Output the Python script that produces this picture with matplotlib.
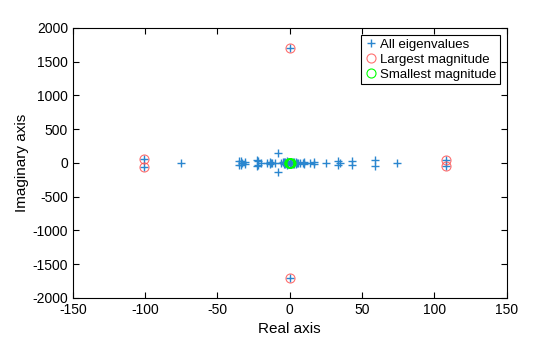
import matplotlib.pyplot as plt

plt.rcParams['font.family'] = ['Liberation Sans', 'DejaVu Sans']
plt.rcParams['axes.unicode_minus'] = False

# eigenvalues (real, imag)
eig_re = [-75, -35, -35, -34, -34, -33, -31, -31, -23, -23, -22, -22, -20,
          -16, -14, -14, -13, -12, -10, -8, -8, -6, -5, -4, -4, -3, -3, -2,
          -2, -1, -1, 0, 0, 1, 1, 2, 2, 3, 3, 4, 4, 5, 6, 7, 9, 10, 10, 14, 17,
          17, 25, 33, 33, 35, 43, 43, 59, 59, 74,
          -101, -101, 108, 108, 0, 0]
eig_im = [0, 35, -35, 25, -25, 0, 10, -10, 40, -40, 30, -30, 0,
          0, 20, -20, 0, 0, 0, 140, -140, 0, 15, 20, -20, 10, -10, 25,
          -25, 5, -5, 12, -12, 8, -8, 20, -20, 10, -10, 15, -15, 0, 0, 0, 0,
          20, -20, 0, 20, -20, 0, 30, -30, 0, 35, -35, 50, -50, 0,
          65, -65, 50, -50, 1700, -1700]

large_re = [-101, -101, 108, 108, 0, 0]
large_im = [65, -65, 50, -50, 1700, -1700]

small_re = [0.3, -0.3, 0.5, -0.5, 0.2, -0.2]
small_im = [2, -2, 4, -4, 0, 0]

fig = plt.figure(figsize=(5.6, 3.37), dpi=100)
ax = fig.add_axes([0.13, 0.116, 0.775, 0.801])

ax.plot(eig_re, eig_im, '+', color='#2A86CF', markersize=6,
        markeredgewidth=1.0, label='All eigenvalues')
ax.plot(large_re, large_im, 'o', color='#FF4D4D', markerfacecolor='none',
        markersize=6.5, markeredgewidth=0.8, alpha=0.8, label='Largest magnitude')
ax.plot(small_re, small_im, 'o', color='#00FF00', markerfacecolor='none',
        markersize=6.5, markeredgewidth=0.8, label='Smallest magnitude')

ax.set_xlim(-150, 150)
ax.set_ylim(-2000, 2000)
ax.set_xticks(range(-150, 151, 50))
ax.set_yticks(range(-2000, 2001, 500))
ax.tick_params(direction='in', length=4, labelsize=10, top=True, right=True,
               labeltop=False, labelright=False)
ax.set_xlabel('Real axis', fontsize=11)
ax.set_ylabel('Imaginary axis', fontsize=11, labelpad=2)

leg = ax.legend(loc='upper right', fontsize=9.5, handletextpad=0.2,
                handlelength=0.9, borderpad=0.3, labelspacing=0.2,
                fancybox=False, framealpha=1, borderaxespad=0.5)
leg.get_frame().set_edgecolor('black')
leg.get_frame().set_linewidth(0.8)

fig.savefig('out.png', dpi=100)
